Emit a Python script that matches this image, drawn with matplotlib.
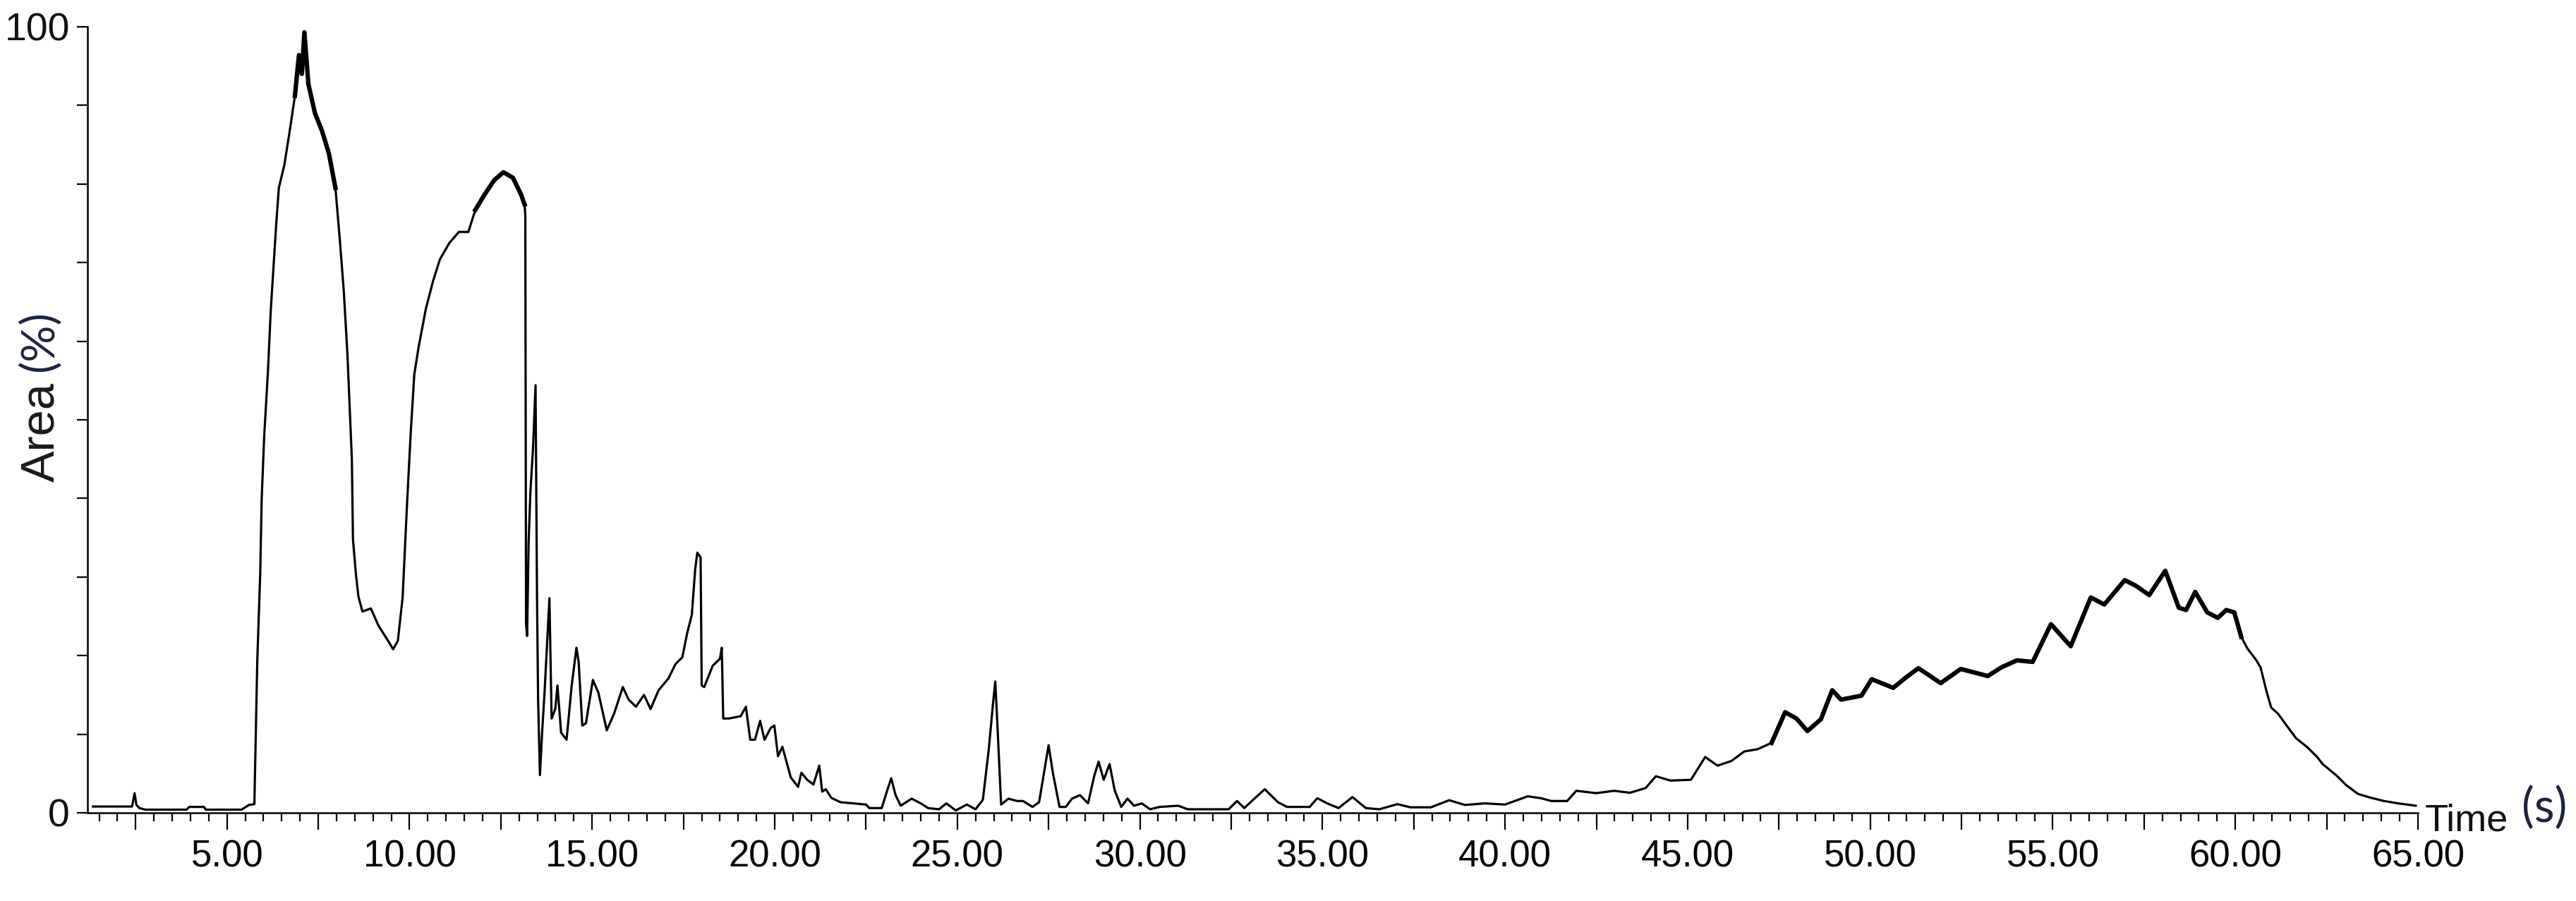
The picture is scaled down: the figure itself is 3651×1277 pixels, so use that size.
import matplotlib
matplotlib.use("Agg")
import matplotlib.pyplot as plt
from matplotlib.ticker import MultipleLocator, FuncFormatter

plt.rcParams["font.family"] = ["Liberation Sans", "DejaVu Sans"]

# retention time (s) and relative area (%)
time_s = [
    1.33, 2.40, 2.47, 2.52, 2.60, 2.77, 3.89, 3.97, 4.37, 4.42, 5.40, 5.60, 5.75,
    5.83, 5.91, 5.95, 6.02, 6.12, 6.20, 6.35, 6.42, 6.57, 6.72, 6.86, 6.97, 7.05,
    7.12, 7.23, 7.41, 7.60, 7.79, 7.97, 8.09, 8.20, 8.30, 8.42, 8.45, 8.53, 8.60,
    8.71, 8.94, 9.15, 9.45, 9.55, 9.68, 9.81, 9.93, 10.03, 10.13, 10.25, 10.45,
    10.64, 10.83, 11.09, 11.35, 11.61, 11.80, 12.06, 12.32, 12.57, 12.83, 13.05,
    13.15, 13.17, 13.19, 13.22, 13.26, 13.31, 13.38, 13.45, 13.49, 13.52, 13.57,
    13.63, 13.70, 13.76, 13.83, 13.89, 13.99, 14.05, 14.15, 14.30, 14.44, 14.57,
    14.63, 14.73, 14.83, 15.02, 15.17, 15.40, 15.60, 15.84, 16.00, 16.20, 16.42,
    16.60, 16.82, 17.09, 17.28, 17.47, 17.60, 17.73, 17.82, 17.88, 17.97, 18.00,
    18.07, 18.30, 18.50, 18.55, 18.59, 18.75, 19.07, 19.21, 19.33, 19.46, 19.60,
    19.72, 19.89, 19.99, 20.09, 20.21, 20.44, 20.64, 20.73, 20.89, 21.06, 21.22,
    21.30, 21.40, 21.55, 21.80, 22.16, 22.50, 22.59, 22.93, 23.06, 23.19, 23.31,
    23.45, 23.75, 24.00, 24.20, 24.50, 24.70, 24.96, 25.26, 25.50, 25.70, 25.86,
    25.98, 26.04, 26.10, 26.20, 26.40, 26.64, 26.80, 27.06, 27.24, 27.37, 27.50,
    27.62, 27.80, 27.97, 28.14, 28.36, 28.58, 28.75, 28.87, 29.01, 29.17, 29.31,
    29.49, 29.66, 29.84, 30.05, 30.28, 30.54, 31.05, 31.31, 31.57, 32.07, 32.43,
    32.66, 32.86, 33.10, 33.42, 33.78, 34.03, 34.65, 34.86, 35.13, 35.44, 35.82,
    36.19, 36.56, 37.05, 37.41, 37.97, 38.47, 38.90, 39.45, 40.00, 40.62, 40.98,
    41.27, 41.70, 41.95, 42.50, 42.99, 43.42, 43.85, 44.13, 44.53, 45.09, 45.48,
    45.82, 46.20, 46.55, 46.92, 47.30, 47.67, 47.98, 48.28, 48.65, 48.96, 49.20,
    49.76, 50.04, 50.63, 51.00, 51.32, 51.93, 52.48, 53.22, 53.59, 54.02, 54.45,
    54.95, 55.49, 56.04, 56.41, 56.97, 57.27, 57.64, 58.08, 58.45, 58.65, 58.90,
    59.23, 59.52, 59.75, 59.97, 60.16, 60.33, 60.56, 60.69, 60.85, 60.98, 61.17,
    61.42, 61.66, 61.98, 62.24, 62.39, 62.78, 63.04, 63.36, 63.68, 64.07, 64.46,
    64.94,
]

area_pct = [
    0.8, 0.8, 2.5, 1.0, 0.6, 0.4, 0.4, 0.75, 0.75, 0.4, 0.4, 1.0, 1.1,
    19.4, 30.4, 39.9, 48.0, 56.0, 64.0, 75.0, 79.5, 82.4, 86.8, 91.2, 96.4, 94.0,
    99.3, 92.7, 89.0, 86.8, 83.9, 79.5, 72.9, 66.3, 58.2, 45.0, 34.8, 30.4, 27.5,
    25.6, 26.0, 23.8, 21.6, 20.8, 21.9, 27.4, 39.2, 48.2, 55.8, 59.3, 64.2,
    67.6, 70.4, 72.5, 73.9, 73.9, 76.7, 78.7, 80.5, 81.5, 80.8, 78.7,
    77.4, 76.0, 24.0, 22.5, 34.4, 40.9, 46.3, 54.4, 27.7, 14.4, 4.8,
    10.2, 15.6, 21.0, 27.3, 12.0, 13.2, 16.2, 10.2, 9.3, 16.2, 21.0,
    19.2, 11.1, 11.4, 16.9, 15.3, 10.5, 12.6, 16.0, 14.4, 13.5, 15.0,
    13.2, 15.6, 17.1, 18.9, 19.8, 22.8, 25.2, 30.9, 33.1, 32.5, 16.2,
    16.0, 18.7, 19.6, 21.0, 12.0, 12.0, 12.3, 13.5, 9.3, 9.3, 11.7,
    9.3, 10.8, 11.1, 7.2, 8.4, 4.5, 3.3, 5.1, 4.2, 3.6, 6.0,
    2.7, 3.0, 1.9, 1.35, 1.2, 1.05, 0.6, 0.6, 2.55, 4.4, 2.25,
    0.9, 1.8, 1.2, 0.6, 0.45, 1.2, 0.3, 1.05, 0.45, 1.65, 8.0,
    14.0, 16.7, 11.0, 1.05, 1.8, 1.5, 1.5, 0.75, 1.35, 5.0, 8.6,
    5.0, 0.75, 0.75, 1.8, 2.25, 1.2, 4.7, 6.5, 4.2, 6.2, 2.85,
    0.75, 1.8, 0.9, 1.2, 0.45, 0.75, 0.9, 0.45, 0.45, 0.45, 0.45,
    1.5, 0.6, 1.65, 3.0, 1.35, 0.75, 0.75, 1.86, 1.2, 0.6, 2.0,
    0.6, 0.45, 1.1, 0.7, 0.7, 1.6, 1.0, 1.2, 1.05, 2.1, 1.86,
    1.5, 1.5, 2.8, 2.5, 2.8, 2.55, 3.15, 4.65, 4.1, 4.2, 7.1,
    6.0, 6.6, 7.8, 8.1, 8.9, 12.8, 12.0, 10.4, 11.9, 15.6, 14.4,
    14.9, 17.0, 15.9, 17.3, 18.4, 16.5, 18.3, 17.4, 18.5, 19.4, 19.2,
    24.0, 21.2, 27.4, 26.5, 29.6, 28.9, 27.7, 30.8, 26.1, 25.8, 28.1,
    25.5, 24.8, 25.8, 25.5, 22.4, 20.9, 19.5, 18.5, 15.5, 13.4, 12.6,
    11.0, 9.5, 8.3, 7.1, 6.2, 4.7, 3.5, 2.4, 1.95, 1.5, 1.2,
    0.9,
]

# parts of the trace that look thick (noisy) in the original
noisy_ranges = [(6.8, 8.0), (11.7, 13.16), (47.0, 60.3)]

W, H = 3651, 1277
fig = plt.figure(figsize=(W / 100, H / 100), dpi=100)
ax = fig.add_axes([124 / W, 1 - 1152 / H, 3303 / W, 1114 / H])

ax.plot(time_s, area_pct, color="black", lw=2.3)
for lo, hi in noisy_ranges:
    idx = [i for i, t in enumerate(time_s) if lo <= t <= hi]
    ax.plot([time_s[i] for i in idx], [area_pct[i] for i in idx],
            color="black", lw=4.5)

ax.set_xlim(1.18, 65)
ax.set_ylim(0, 100)

for s in ["top", "right"]:
    ax.spines[s].set_visible(False)
for s in ["left", "bottom"]:
    ax.spines[s].set_linewidth(1.8)

ax.xaxis.set_major_locator(MultipleLocator(2.5))
ax.xaxis.set_minor_locator(MultipleLocator(0.5))
ax.xaxis.set_major_formatter(FuncFormatter(
    lambda v, p: f"{v:.2f}" if abs(v / 5 - round(v / 5)) < 1e-6 else ""))
ax.yaxis.set_major_locator(MultipleLocator(10))
ax.yaxis.set_major_formatter(FuncFormatter(
    lambda v, p: f"{v:.0f}" if round(v) in (0, 100) else ""))

ax.tick_params(axis="x", which="major", length=17, width=1.6, pad=10,
               labelsize=38, colors="black")
ax.tick_params(axis="x", which="minor", length=8.5, width=1.6)
ax.tick_params(axis="y", which="major", length=11, width=1.6, pad=7,
               labelsize=40, colors="black")
for lab in ax.get_yticklabels():
    lab.set_color("#111111")

# axis titles: plain word in Arial-like font, unit in a different (rounder) font
fig.text(76 / W, 1 - 683 / H, "Area", rotation=90, rotation_mode="anchor",
         ha="left", va="baseline", fontsize=48, color="#1a1a1a")
fig.text(74 / W, 1 - 527 / H, "(%)", rotation=90, rotation_mode="anchor",
         ha="left", va="baseline", fontsize=47, color="#1d2340",
         family=["Lato", "DejaVu Sans"])
fig.text(3437 / W, 1 - 1177 / H, "Time", ha="left", va="baseline",
         fontsize=39, color="#111111")
fig.text(3574 / W, 1 - 1165 / H, "(s)", ha="left", va="baseline",
         fontsize=48, color="#1d2340", family=["Lato", "DejaVu Sans"])

fig.savefig("out.png", dpi=100, facecolor="white")
